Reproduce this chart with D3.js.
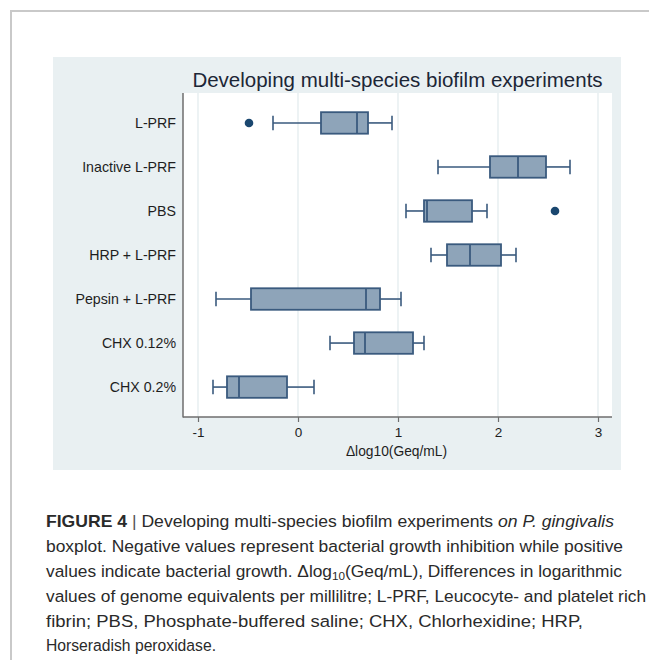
<!DOCTYPE html>
<html>
<head>
<meta charset="utf-8">
<script src="https://cdn.jsdelivr.net/npm/d3@7"></script>
<style>
  html, body { margin: 0; padding: 0; background: #fff; }
  svg { display: block; }
</style>
</head>
<body>
<svg id="chart" width="649" height="660"></svg>
<script>
// ---- data ----
const categories = ["L-PRF", "Inactive L-PRF", "PBS", "HRP + L-PRF", "Pepsin + L-PRF", "CHX 0.12%", "CHX 0.2%"];
const lowerWhisker = [-0.25, 1.40, 1.08, 1.33, -0.82, 0.32, -0.85];
const q1           = [0.23, 1.92, 1.26, 1.49, -0.47, 0.56, -0.71];
const median       = [0.59, 2.20, 1.29, 1.72, 0.68, 0.67, -0.59];
const q3           = [0.70, 2.48, 1.74, 2.03, 0.82, 1.15, -0.11];
const upperWhisker = [0.94, 2.72, 1.89, 2.18, 1.03, 1.26, 0.16];
const outlierCats  = ["L-PRF", "PBS"];
const outlierVals  = [-0.49, 2.57];
const tickValues = [-1, 0, 1, 2, 3];
const tickLabels = ["-1", "0", "1", "2", "3"];
const titleText = "Developing multi-species biofilm experiments";
const xAxisTitle = "Δlog10(Geq/mL)";

// ---- layout ----
const svg = d3.select("#chart");
const plot = { left: 183, right: 612, top: 93, bottom: 417 };
const panel = { left: 53, right: 621, top: 57, bottom: 470 };
const font = "Liberation Sans, Arial, sans-serif";

const x = d3.scaleLinear().domain([-1, 3]).range([198, 598]);
const y = d3.scalePoint().domain(categories).range([plot.top, plot.bottom]).padding(0.68);

const navy = "#1a476f";
const boxStroke = "#3a5a7e";
const boxFill = "#8ea4b9";

// outer frame
svg.append("path")
  .attr("d", `M11,660 L11,11 L649,11`)
  .attr("fill", "none").attr("stroke", "#c9c9c9").attr("stroke-width", 2);

// graph region background
svg.append("rect")
  .attr("x", panel.left).attr("y", panel.top)
  .attr("width", panel.right - panel.left).attr("height", panel.bottom - panel.top)
  .attr("fill", "#e9f0f2");

// plot region
svg.append("rect")
  .attr("x", plot.left).attr("y", plot.top)
  .attr("width", plot.right - plot.left).attr("height", plot.bottom - plot.top)
  .attr("fill", "#ffffff");

// gridlines
svg.append("g").selectAll("line").data(tickValues).join("line")
  .attr("x1", d => x(d)).attr("x2", d => x(d))
  .attr("y1", plot.top).attr("y2", plot.bottom)
  .attr("stroke", "#e3ecef").attr("stroke-width", 1.3);

// title
svg.append("text")
  .attr("x", (plot.left + plot.right) / 2).attr("y", 87)
  .attr("text-anchor", "middle")
  .attr("font-family", font)
  .attr("font-size", 20.5)
  .attr("fill", "#1c2636")
  .text(titleText);

// boxes
const bh = 21.5, capH = 14.5;
const g = svg.append("g");
categories.forEach((c, i) => {
  const cy = y(c);
  const gg = g.append("g");
  gg.append("line").attr("x1", x(lowerWhisker[i])).attr("x2", x(q1[i]))
    .attr("y1", cy).attr("y2", cy).attr("stroke", boxStroke).attr("stroke-width", 1.6);
  gg.append("line").attr("x1", x(q3[i])).attr("x2", x(upperWhisker[i]))
    .attr("y1", cy).attr("y2", cy).attr("stroke", boxStroke).attr("stroke-width", 1.6);
  [lowerWhisker[i], upperWhisker[i]].forEach(v => {
    gg.append("line").attr("x1", x(v)).attr("x2", x(v))
      .attr("y1", cy - capH / 2).attr("y2", cy + capH / 2)
      .attr("stroke", boxStroke).attr("stroke-width", 1.6);
  });
  gg.append("rect")
    .attr("x", x(q1[i])).attr("y", cy - bh / 2)
    .attr("width", x(q3[i]) - x(q1[i])).attr("height", bh)
    .attr("fill", boxFill).attr("stroke", boxStroke).attr("stroke-width", 1.8);
  gg.append("line").attr("x1", x(median[i])).attr("x2", x(median[i]))
    .attr("y1", cy - bh / 2).attr("y2", cy + bh / 2)
    .attr("stroke", boxStroke).attr("stroke-width", 1.8);
});

// outliers
svg.append("g").selectAll("circle").data(outlierVals).join("circle")
  .attr("cx", d => x(d)).attr("cy", (d, i) => y(outlierCats[i]))
  .attr("r", 4.3).attr("fill", navy);

// axes lines
svg.append("line").attr("x1", plot.left).attr("x2", plot.left)
  .attr("y1", plot.top).attr("y2", plot.bottom + 0.5)
  .attr("stroke", "#6e6e6e").attr("stroke-width", 1.5);
svg.append("line").attr("x1", plot.left).attr("x2", plot.right)
  .attr("y1", plot.bottom).attr("y2", plot.bottom)
  .attr("stroke", "#6e6e6e").attr("stroke-width", 1.5);

// x axis
const xAxis = d3.axisBottom(x).tickValues(tickValues)
  .tickFormat((d, i) => tickLabels[i]).tickSize(5).tickPadding(5);
const xg = svg.append("g").attr("transform", `translate(0,${plot.bottom})`).call(xAxis);
xg.select(".domain").remove();
xg.selectAll(".tick line").attr("stroke", "#6e6e6e").attr("stroke-width", 1.2);
xg.selectAll(".tick text")
  .attr("font-family", font)
  .attr("font-size", 13.5).attr("fill", "#1e1e1e");

// x axis title
svg.append("text")
  .attr("x", 396.5).attr("y", 456)
  .attr("text-anchor", "middle")
  .attr("font-family", font)
  .attr("font-size", 13.8).attr("fill", "#1e1e1e")
  .text(xAxisTitle);

// y axis labels
const yAxis = d3.axisLeft(y).tickSize(0).tickPadding(7);
const yg = svg.append("g").attr("transform", `translate(${plot.left},0)`).call(yAxis);
yg.select(".domain").remove();
yg.selectAll(".tick text")
  .attr("font-family", font)
  .attr("font-size", 14.2).attr("fill", "#1e1e1e");

// caption
const capLines = [
  { y: 527, w: 568, parts: [
      { t: "FIGURE 4", w: "bold" },
      { t: " ", w: "normal" },
      { t: "|", w: "normal", fill: "#555" },
      { t: " Developing multi-species biofilm experiments ", w: "normal" },
      { t: "on P. gingivalis", w: "normal", s: "italic" } ] },
  { y: 552, w: 577, parts: [{ t: "boxplot. Negative values represent bacterial growth inhibition while positive" }] },
  { y: 577, w: 576, parts: [
      { t: "values indicate bacterial growth. Δlog" },
      { t: "10", sub: true },
      { t: "(Geq/mL), Differences in logarithmic" } ] },
  { y: 602, w: 600, parts: [{ t: "values of genome equivalents per millilitre; L-PRF, Leucocyte- and platelet rich" }] },
  { y: 627, w: 537, parts: [{ t: "fibrin; PBS, Phosphate-buffered saline; CHX, Chlorhexidine; HRP," }] },
  { y: 651, w: 170, parts: [{ t: "Horseradish peroxidase." }] }
];
capLines.forEach(line => {
  const t = svg.append("text")
    .attr("x", 46).attr("y", line.y)
    .attr("font-family", font)
    .attr("font-size", 16.3)
    .attr("fill", "#2a2a2a")
    .attr("textLength", line.w)
    .attr("lengthAdjust", "spacingAndGlyphs");
  line.parts.forEach((p, i) => {
    const ts = t.append("tspan").text(p.t);
    if (p.w) ts.attr("font-weight", p.w);
    if (p.s) ts.attr("font-style", p.s);
    if (p.fill) ts.attr("fill", p.fill);
    if (p.sub) ts.attr("font-size", 11).attr("dy", 3);
    const prev = line.parts[i - 1];
    if (prev && prev.sub) ts.attr("dy", -3);
  });
});
</script>
</body>
</html>
